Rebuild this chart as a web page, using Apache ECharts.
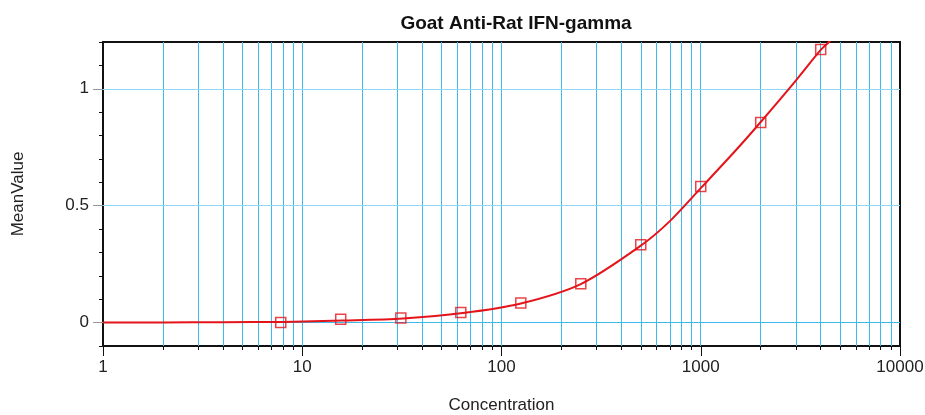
<!DOCTYPE html>
<html>
<head>
<meta charset="utf-8">
<script src="https://cdn.jsdelivr.net/npm/echarts@6/dist/echarts.min.js"></script>
<style>
  html, body { margin: 0; padding: 0; background: #fff; }
  #main { width: 925px; height: 415px; }
</style>
</head>
<body>
<div id="main"></div>
<script>
// standard points (concentration vs mean value)
var concentrations = [7.8, 15.6, 31.25, 62.5, 125, 250, 500, 1000, 2000, 4000];
var meanValues = [0.000, 0.014, 0.020, 0.043, 0.084, 0.166, 0.333, 0.582, 0.856, 1.168];

// fitted curve
var curveX = [1, 2, 4, 8, 16, 32, 64, 125, 250, 500, 700, 1000, 1500, 2000, 3000, 4000, 4400, 4700];
var curveY = [0, 0.001, 0.002, 0.003, 0.009, 0.018, 0.041, 0.082, 0.165, 0.329, 0.434, 0.575, 0.737, 0.858, 1.035, 1.166, 1.2, 1.23];

var xMajor = [1, 10, 100, 1000, 10000];
var xMinor = [2, 3, 4, 5, 6, 7, 8, 9,
              20, 30, 40, 50, 60, 70, 80, 90,
              200, 300, 400, 500, 600, 700, 800, 900,
              2000, 3000, 4000, 5000, 6000, 7000, 8000, 9000];
var yMajor = [0, 0.5, 1];

var vGrid = xMinor.concat([10, 100, 1000]);

var chart = echarts.init(document.getElementById('main'));
var font = 'Liberation Sans, Arial, sans-serif';

// helper axis in decades (log10 space) just for the tick marks
var decMin = Math.log10(xMajor[0]), decMax = Math.log10(xMajor[xMajor.length - 1]);

var option = {
    backgroundColor: '#fff',
    animation: false,
    title: {
        text: 'Goat Anti-Rat IFN-gamma',
        left: 511,
        top: 9,
        textAlign: 'center',
        textStyle: { fontFamily: font, fontSize: 19, fontWeight: 'bold', color: '#111' }
    },
    grid: {
        left: 103, right: 25, top: 42, bottom: 69,
        containLabel: false, outerBoundsMode: 'none',
        show: true, borderColor: '#111', borderWidth: 2, backgroundColor: 'transparent'
    },
    xAxis: [{
        type: 'log', logBase: 10, min: 1, max: 10000,
        name: 'Concentration', nameLocation: 'middle', nameGap: 51,
        nameTextStyle: { fontFamily: font, fontSize: 17, color: '#222' },
        axisLine: { onZero: false, lineStyle: { color: '#111', width: 2 } },
        axisTick: { show: false },
        axisLabel: {
            fontFamily: font, fontSize: 17, color: '#222', margin: 13,
            formatter: function (v) { return String(Math.round(v)); }
        },
        splitLine: { show: false }
    }, {
        type: 'value', min: decMin, max: decMax, position: 'bottom',
        axisLine: { show: false, onZero: false },
        axisTick: { show: true, length: 4, customValues: xMinor.map(Math.log10), lineStyle: { color: '#111', width: 1 } },
        axisLabel: { show: false },
        splitLine: { show: false }
    }, {
        type: 'value', min: decMin, max: decMax, position: 'bottom',
        axisLine: { show: false, onZero: false },
        axisTick: { show: true, length: 10, customValues: xMajor.map(Math.log10), lineStyle: { color: '#111', width: 1 } },
        axisLabel: { show: false },
        splitLine: { show: false }
    }],
    yAxis: [{
        type: 'value', min: -0.1, max: 1.2, interval: 0.1,
        name: 'MeanValue', nameLocation: 'middle', nameGap: 76, nameRotate: 90,
        nameTextStyle: { fontFamily: font, fontSize: 17, color: '#222' },
        axisLine: { show: true, onZero: false, lineStyle: { color: '#111', width: 2 } },
        axisTick: { show: true, length: 4, lineStyle: { color: '#111' } },
        axisLabel: { show: false },
        splitLine: { show: false }
    }, {
        type: 'value', min: -0.1, max: 1.2, position: 'left',
        axisLine: { show: false, onZero: false },
        axisTick: { show: true, length: 10, customValues: yMajor, lineStyle: { color: '#999' } },
        axisLabel: { customValues: yMajor, fontFamily: font, fontSize: 17, color: '#222', margin: 14 },
        splitLine: { show: false }
    }],
    series: [{
        // grid lines
        type: 'line', data: [], z: 1, silent: true,
        markLine: {
            z: 1, silent: true, symbol: 'none', label: { show: false },
            data: vGrid.map(function (v) {
                return { xAxis: v, lineStyle: { color: '#3db9ec', width: 1, type: 'solid' } };
            }).concat(yMajor.map(function (v) {
                return { yAxis: v, lineStyle: { color: v === 0 ? '#3db9ec' : '#8fd8f5', width: 1, type: 'solid' } };
            }))
        }
    }, {
        name: 'fit', type: 'line', zlevel: 1, z: 3,
        data: curveX.map(function (x, i) { return [x, curveY[i]]; }),
        smooth: 0.3, showSymbol: false, clip: true,
        lineStyle: { color: '#e4141b', width: 2 }
    }, {
        name: 'points', type: 'scatter', zlevel: 1, z: 4,
        data: concentrations.map(function (x, i) { return [x, meanValues[i]]; }),
        symbol: 'rect', symbolSize: 10,
        itemStyle: { color: 'rgba(255,255,255,0)', borderColor: '#e4141b', borderWidth: 1.5 }
    }]
};

chart.setOption(option);
</script>
</body>
</html>
